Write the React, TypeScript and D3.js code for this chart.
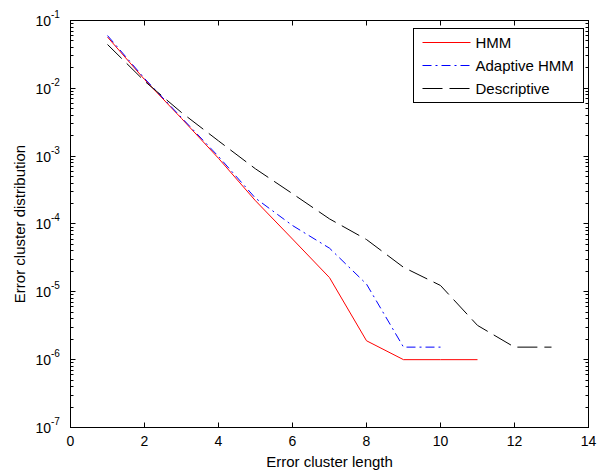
import React from "react";
import * as d3 from "d3";

const hmmX = [1, 2, 3, 4, 5, 6, 7, 8, 9, 10, 11];
const hmmY = [0.057, 0.0135, 3.6e-3, 9.3e-4, 2.2e-4, 6.0e-5, 1.62e-5, 1.9e-6, 1.0e-6, 1.0e-6, 1.0e-6];
const adaptiveX = [1, 2, 3, 4, 5, 6, 7, 8, 9, 10];
const adaptiveY = [0.06, 0.014, 3.7e-3, 9.9e-4, 2.4e-4, 9.5e-5, 4.4e-5, 1.3e-5, 1.53e-6, 1.53e-6];
const descriptiveX = [1, 2, 3, 4, 5, 6, 7, 8, 9, 10, 11, 12, 13];
const descriptiveY = [0.0443, 0.0128, 4.4e-3, 1.68e-3, 6.5e-4, 2.8e-4, 1.19e-4, 5.9e-5, 2.3e-5, 1.24e-5, 3.2e-6, 1.53e-6, 1.53e-6];

const xTicks = [0, 2, 4, 6, 8, 10, 12, 14];
const yExponents = [-1, -2, -3, -4, -5, -6, -7];
const legendLabels = ["HMM", "Adaptive HMM", "Descriptive"];

const FONT = "'Liberation Sans', Arial, sans-serif";

export default function App() {
  const W = 609, H = 475;
  const L = 70.5, R = 588.5, T = 20.5, B = 427.5;
  const x = d3.scaleLinear().domain([0, 14]).range([L, R]);
  const y = d3.scaleLog().domain([1e-7, 1e-1]).range([B, T]);

  const line = d3
    .line<[number, number]>()
    .x((d) => x(d[0]))
    .y((d) => y(d[1]));

  const series = [
    { xs: hmmX, ys: hmmY, color: "#ff0000", dash: undefined as string | undefined },
    { xs: adaptiveX, ys: adaptiveY, color: "#0000ff", dash: "9,4,2,4" },
    { xs: descriptiveX, ys: descriptiveY, color: "#000000", dash: "20,7" },
  ];

  const minor: number[] = [];
  for (let e = -7; e < -1; e++) {
    for (let m = 2; m <= 9; m++) minor.push(m * Math.pow(10, e));
  }

  const legX = 413.5, legY = 28.5, legW = 170, legH = 74;
  const snap = (v: number) => Math.round(v - 0.5) + 0.5;

  return (
    <svg
      width={W}
      height={H}
      style={{ position: "absolute", left: 0, top: 0, background: "#fff" }}
      fontFamily={FONT}
    >
      <rect x={0} y={0} width={W} height={H} fill="#fff" />
      <defs>
        <clipPath id="clip">
          <rect x={L} y={T} width={R - L} height={B - T} />
        </clipPath>
      </defs>
      {/* data lines */}
      <g clipPath="url(#clip)">
        {series.map((s, i) => (
          <path
            key={i}
            d={line(s.xs.map((v, j) => [v, s.ys[j]] as [number, number])) || ""}
            fill="none"
            stroke={s.color}
            strokeWidth={1}
            strokeDasharray={s.dash}
          />
        ))}
      </g>
      {/* x ticks */}
      {xTicks.map((t) => (
        <g key={"xt" + t}>
          <line x1={snap(x(t))} x2={snap(x(t))} y1={B} y2={B - 5} stroke="#000" />
          <line x1={snap(x(t))} x2={snap(x(t))} y1={T} y2={T + 5} stroke="#000" />
          <text x={x(t)} y={B + 18} fontSize={14} textAnchor="middle" fill="#000">
            {t}
          </text>
        </g>
      ))}
      {/* y major ticks */}
      {yExponents.map((e) => {
        const py = snap(y(Math.pow(10, e)));
        return (
          <g key={"yt" + e}>
            <line x1={L} x2={L + 5} y1={py} y2={py} stroke="#000" />
            <line x1={R} x2={R - 5} y1={py} y2={py} stroke="#000" />
            <text x={51} y={py + 5} fontSize={14} textAnchor="end" fill="#000">
              10
            </text>
            <text x={51} y={py - 3} fontSize={10} textAnchor="start" fill="#000">
              {String(e)}
            </text>
          </g>
        );
      })}
      {/* y minor ticks */}
      {minor.map((v, i) => (
        <g key={"ym" + i}>
          <line x1={L} x2={L + 3} y1={snap(y(v))} y2={snap(y(v))} stroke="#000" />
          <line x1={R} x2={R - 3} y1={snap(y(v))} y2={snap(y(v))} stroke="#000" />
        </g>
      ))}
      {/* axes box */}
      <rect x={L} y={T} width={R - L} height={B - T} fill="none" stroke="#000" strokeWidth={1} />
      {/* axis labels */}
      <text x={(L + R) / 2} y={B + 39} fontSize={15} textAnchor="middle" fill="#000">
        Error cluster length
      </text>
      <text
        transform={`translate(25,${(T + B) / 2}) rotate(-90)`}
        fontSize={15}
        textAnchor="middle"
        fill="#000"
      >
        Error cluster distribution
      </text>
      {/* legend */}
      <rect x={legX} y={legY} width={legW} height={legH} fill="#fff" stroke="#000" strokeWidth={1} />
      {legendLabels.map((lab, i) => {
        const ly = snap(legY + 14 + i * 23);
        const s = series[i];
        return (
          <g key={lab}>
            <line
              x1={legX + 9}
              x2={legX + 57}
              y1={ly}
              y2={ly}
              stroke={s.color}
              strokeWidth={1}
              strokeDasharray={s.dash}
            />
            <text x={legX + 62} y={ly + 5.5} fontSize={15} fill="#000">
              {lab}
            </text>
          </g>
        );
      })}
    </svg>
  );
}
